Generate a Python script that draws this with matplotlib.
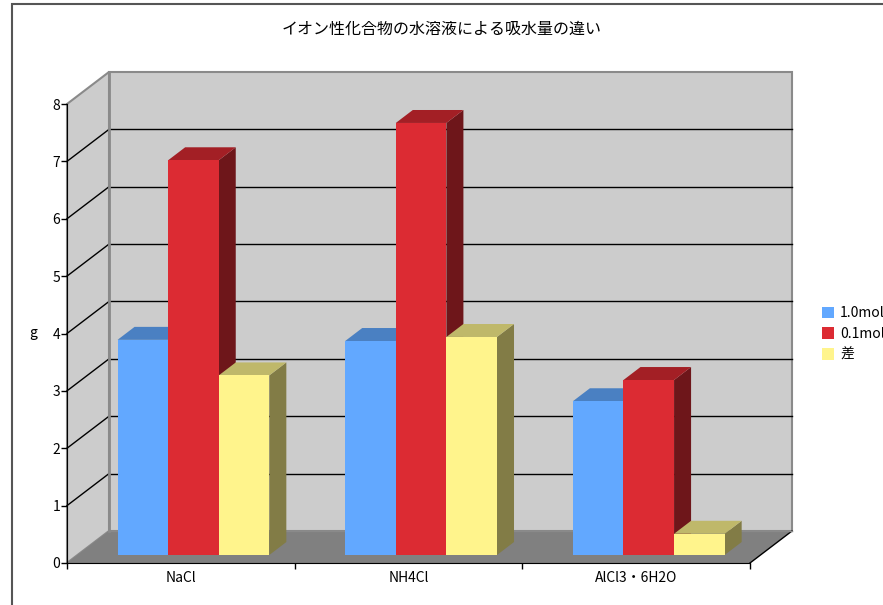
import matplotlib.pyplot as plt
from matplotlib.patches import Polygon, Rectangle, Patch

plt.rcParams['font.family'] = ['Noto Sans CJK JP', 'DejaVu Sans']

compounds = ['NaCl', 'NH4Cl', 'AlCl3・6H2O']
series = ['1.0mol', '0.1mol', '差']
mol_10 = [3.75, 3.73, 2.68]
mol_01 = [6.88, 7.53, 3.05]
diff = [3.13, 3.80, 0.37]
yticks = [0, 1, 2, 3, 4, 5, 6, 7, 8]

values = [mol_10, mol_01, diff]
front_colors = ['#62a8ff', '#dc2b33', '#fff48c']
top_colors = ['#4a80c2', '#a31f25', '#bfb86a']
side_colors = ['#3d6aa3', '#6e161a', '#827c46']

fig = plt.figure(figsize=(8.83, 6.05), dpi=100)
ax = fig.add_axes([67 / 883, 42 / 605, 683 / 883, 459 / 605])
ax.set_xlim(0, 3)
ax.set_ylim(0, 8)

# depth of the box (data units) and the bars within it
dx, dy = 0.1845, 0.558
fx, fy = 0.3 * dx, 0.25 * dy
bdx, bdy = 0.405 * dx, 0.405 * dy
ymax = yticks[-1]
ncat = len(compounds)

wall = '#cccccc'
edge = '#8a8a8a'

# walls and floor
ax.add_patch(Polygon([(dx, dy), (ncat + dx, dy), (ncat + dx, ymax + dy), (dx, ymax + dy)],
                     facecolor=wall, edgecolor=edge, lw=1.5, clip_on=False, zorder=1))
ax.add_patch(Polygon([(0, 0), (dx, dy), (dx, ymax + dy), (0, ymax)],
                     facecolor=wall, edgecolor=edge, lw=1.5, clip_on=False, zorder=1))
ax.add_patch(Polygon([(0, 0), (ncat, 0), (ncat + dx, dy), (dx, dy)],
                     facecolor='#808080', edgecolor='none', clip_on=False, zorder=1))
ax.plot([ncat, ncat + dx], [0, dy], color='black', lw=1, clip_on=False, zorder=2)

# gridlines on back and side walls
for v in yticks[1:-1]:
    ax.plot([dx, ncat + dx], [v + dy, v + dy], color='black', lw=1, clip_on=False, zorder=2)
    ax.plot([0, dx], [v, v + dy], color='black', lw=1, clip_on=False, zorder=2)
ax.plot([dx, dx], [dy, ymax + dy], color=edge, lw=2, clip_on=False, zorder=2)
ax.plot([dx, ncat + dx], [dy, dy], color=edge, lw=1, clip_on=False, zorder=2)

# 3d columns
gap = 1 / 6
w = (1 - 2 * gap) / len(series)
for i in range(ncat):
    for j in range(len(series)):
        val = values[j][i]
        x0 = i + gap + j * w + fx
        x1 = x0 + w
        y0 = fy
        y1 = val + fy
        ax.add_patch(Polygon([(x1, y0), (x1 + bdx, y0 + bdy), (x1 + bdx, y1 + bdy), (x1, y1)],
                             facecolor=side_colors[j], edgecolor='none', clip_on=False, zorder=3))
        ax.add_patch(Polygon([(x0, y1), (x1, y1), (x1 + bdx, y1 + bdy), (x0 + bdx, y1 + bdy)],
                             facecolor=top_colors[j], edgecolor='none', clip_on=False, zorder=3))
        ax.add_patch(Rectangle((x0, y0), w, val, facecolor=front_colors[j],
                               edgecolor='none', clip_on=False, zorder=3))

# axes
for s in ['top', 'right']:
    ax.spines[s].set_visible(False)
ax.spines['left'].set_zorder(4)
ax.spines['bottom'].set_zorder(4)
ax.patch.set_visible(False)
ax.set_yticks(yticks)
ax.set_yticklabels([str(v) for v in yticks], fontsize=10)
ax.set_xticks(range(ncat + 1))
ax.set_xticklabels([])
ax.set_xticks([i + 0.5 for i in range(ncat)], minor=True)
ax.set_xticklabels(compounds, minor=True, fontsize=10)
ax.tick_params(axis='x', which='minor', length=0, pad=6)
ax.tick_params(axis='both', which='major', direction='out', length=4, width=1, pad=1)
ax.set_ylabel('g', rotation=0, fontsize=10, labelpad=14, va='center')

fig.suptitle('イオン性化合物の水溶液による吸水量の違い', fontsize=11.5, y=0.965)

handles = [Patch(facecolor=c, edgecolor='none') for c in front_colors]
fig.legend(handles, series, loc='center left', bbox_to_anchor=(815 / 883, 1 - 334 / 605),
           frameon=False, fontsize=10, handlelength=0.9, handleheight=0.9,
           handletextpad=0.4, labelspacing=0.5, borderpad=0)

# chart area border
fig.add_artist(Rectangle((12 / 883, -0.1), 1.2, 1.1 - 4 / 605, transform=fig.transFigure,
                         facecolor='none', edgecolor='#555555', lw=1.5))

fig.savefig('out.png', dpi=100)
